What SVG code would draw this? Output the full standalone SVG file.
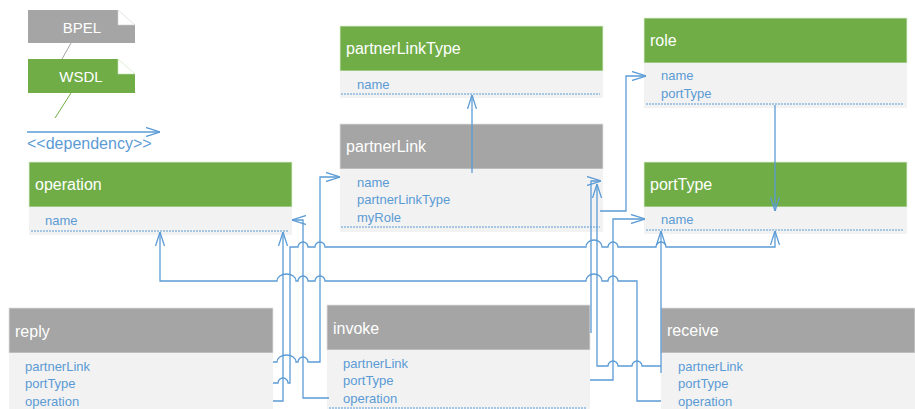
<svg xmlns="http://www.w3.org/2000/svg" width="915" height="409" viewBox="0 0 915 409">
<style>
.hg{fill:#70AD47;stroke:#E2EFDA;stroke-width:0.8}
.hb{fill:#A5A5A5;stroke:#E0E0E0;stroke-width:0.8}
.bd{fill:#F2F2F2}
.ht{font-family:"Liberation Sans",Arial,sans-serif;font-size:16px;fill:#FFFFFF}
.bt{font-family:"Liberation Sans",Arial,sans-serif;font-size:13px;fill:#5B9BD5}
.dt{stroke:#5B9BD5;stroke-width:1;stroke-dasharray:2 1;fill:none}
.cn{fill:none;stroke:#5B9BD5;stroke-width:1.3}
.lt{font-family:"Liberation Sans",Arial,sans-serif;font-size:15px;fill:#FFFFFF}
</style>
<defs>
<marker id="arr" viewBox="0 0 14 10" refX="14" refY="5" markerWidth="14" markerHeight="10" markerUnits="userSpaceOnUse" orient="auto">
<path d="M0,0.5 L14,5 L0,9.5" fill="none" stroke="#5B9BD5" stroke-width="1.3"/>
</marker>
</defs>
<rect width="915" height="409" fill="#FFFFFF"/>

<g id="legend">
<path d="M28,10 H118 V25 H135 V43 H28 Z" fill="#A5A5A5"/>
<path d="M118,10 L135,25 H118 Z" fill="#FFFFFF" stroke="#D0D0D0" stroke-width="0.6"/>
<text x="82" y="33" class="lt" text-anchor="middle">BPEL</text>
<line x1="71" y1="43" x2="62" y2="59" stroke="#A5A5A5" stroke-width="1"/>
<path d="M28,59 H118 V74 H135 V93 H28 Z" fill="#70AD47"/>
<path d="M118,59 L135,74 H118 Z" fill="#FFFFFF" stroke="#C5E0B4" stroke-width="0.6"/>
<text x="81" y="82" class="lt" text-anchor="middle">WSDL</text>
<line x1="71" y1="93" x2="55" y2="118" stroke="#70AD47" stroke-width="1"/>
<line x1="27" y1="132" x2="160" y2="132" class="cn" marker-end="url(#arr)"/>
<text x="27" y="149" font-family="Liberation Sans, Arial, sans-serif" font-size="16" fill="#5B9BD5">&lt;&lt;dependency&gt;&gt;</text>
</g>

<g id="partnerLinkType">
<rect x="340" y="26" width="263" height="45" class="hg"/>
<rect x="340" y="71" width="263" height="27" class="bd"/>
<text x="346" y="54" class="ht">partnerLinkType</text>
<text x="357" y="89" class="bt">name</text>
<line x1="341" y1="94" x2="600" y2="94" class="dt"/>
</g>

<g id="role">
<rect x="644" y="18" width="263" height="45" class="hg"/>
<rect x="644" y="63" width="263" height="45" class="bd"/>
<text x="650" y="46" class="ht">role</text>
<text x="661" y="80" class="bt">name</text>
<text x="661" y="98" class="bt">portType</text>
<line x1="646" y1="104" x2="904" y2="104" class="dt"/>
</g>

<g id="partnerLink">
<rect x="340" y="124" width="263" height="45" class="hb"/>
<rect x="340" y="169" width="263" height="63" class="bd"/>
<text x="346" y="152" class="ht">partnerLink</text>
<text x="357" y="187" class="bt">name</text>
<text x="357" y="204" class="bt">partnerLinkType</text>
<text x="357" y="222" class="bt">myRole</text>
<line x1="341" y1="227" x2="600" y2="227" class="dt"/>
</g>

<g id="portType">
<rect x="644" y="162" width="263" height="45" class="hg"/>
<rect x="644" y="207" width="263" height="27" class="bd"/>
<text x="650" y="190" class="ht">portType</text>
<text x="661" y="224" class="bt">name</text>
<line x1="646" y1="230" x2="904" y2="230" class="dt"/>
</g>

<g id="operation">
<rect x="29" y="162" width="263" height="45" class="hg"/>
<rect x="29" y="207" width="263" height="28" class="bd"/>
<text x="35" y="190" class="ht">operation</text>
<text x="45" y="225" class="bt">name</text>
<line x1="31" y1="231" x2="289" y2="231" class="dt"/>
</g>

<g id="reply">
<rect x="9" y="308" width="264" height="45" class="hb"/>
<rect x="9" y="353" width="264" height="56" class="bd"/>
<text x="15" y="337" class="ht">reply</text>
<text x="25" y="371" class="bt">partnerLink</text>
<text x="25" y="388" class="bt">portType</text>
<text x="25" y="406" class="bt">operation</text>
</g>

<g id="invoke">
<rect x="327" y="305" width="263" height="45" class="hb"/>
<rect x="327" y="350" width="263" height="59" class="bd"/>
<text x="333" y="334" class="ht">invoke</text>
<text x="343" y="368" class="bt">partnerLink</text>
<text x="343" y="385" class="bt">portType</text>
<text x="343" y="403" class="bt">operation</text>
<line x1="329" y1="408" x2="587" y2="408" class="dt"/>
</g>

<g id="receive">
<rect x="661" y="308" width="254" height="45" class="hb"/>
<rect x="661" y="353" width="254" height="56" class="bd"/>
<text x="667" y="336" class="ht">receive</text>
<text x="678" y="371" class="bt">partnerLink</text>
<text x="678" y="388" class="bt">portType</text>
<text x="678" y="406" class="bt">operation</text>
</g>

<g id="connectors">
<path class="cn" marker-end="url(#arr)" d="M472,173 V95"/>
<path class="cn" marker-end="url(#arr)" d="M775,105 V211"/>
<path class="cn" marker-end="url(#arr)" d="M600,211 H626 V76 H646"/>
<path class="cn" marker-end="url(#arr)" d="M273,362 H277 A9.5,7 0 0 1 296,362 H298 A5,5 0 0 1 308,362 H320 V177 H340"/>
<path class="cn" marker-end="url(#arr)" d="M273,383 H278 A5,5 0 0 1 288,383 H290 V247 H298 A5,5 0 0 1 308,247 H315 A5,5 0 0 1 325,247 H586 A8,7 0 0 1 602,247 H608 A5,5 0 0 1 618,247 H656 A5,5 0 0 1 666,247 H775 V231"/>
<path class="cn" marker-end="url(#arr)" d="M273,401 H283 V232"/>
<path class="cn" marker-end="url(#arr)" d="M591,333 V181 H601"/>
<path class="cn" marker-end="url(#arr)" d="M590,380 H613 V219 H645"/>
<path class="cn" marker-end="url(#arr)" d="M329,398 H303 V220 H292"/>
<path class="cn" marker-end="url(#arr)" d="M661,366 H642 A5,5 0 0 0 632,366 H618 A5,5 0 0 0 608,366 H597 V184"/>
<path class="cn" marker-end="url(#arr)" d="M661,373 V231"/>
<path class="cn" marker-end="url(#arr)" d="M661,401 H637 V281 H618 A5,5 0 0 0 608,281 H602 A8,7 0 0 0 586,281 H325 A5,5 0 0 0 315,281 H308 A5,5 0 0 0 298,281 H296 A9.5,7 0 0 0 277,281 H160 V232"/>
</g>
</svg>
